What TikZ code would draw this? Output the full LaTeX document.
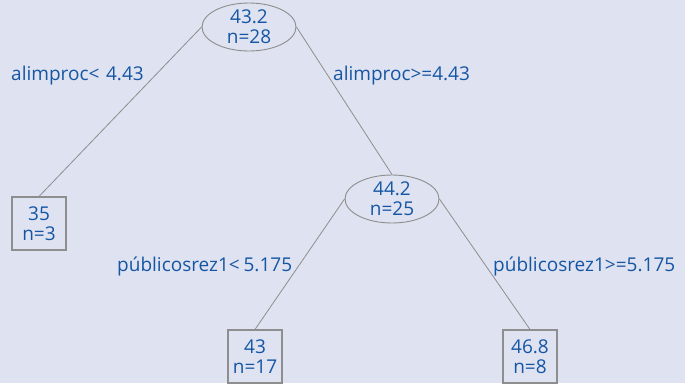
\documentclass[tikz,border=0pt]{standalone}
\usepackage{fontspec}
\setmainfont{Open Sans}
\usetikzlibrary{shapes.geometric}
\definecolor{bg}{HTML}{DFE2F0}
\definecolor{txt}{HTML}{1556A4}
\definecolor{ln}{HTML}{8E8E8E}
\tikzset{
  every node/.style={text=txt, font=\fontsize{19}{20}\selectfont, inner sep=0pt},
  split/.style={ellipse, draw=ln, line width=0.9pt, minimum width=94pt, minimum height=48pt, align=center},
  leaf/.style={rectangle, draw=ln, line width=1.1pt, minimum width=54pt, minimum height=53pt, align=center},
  edge/.style={draw=ln, line width=0.8pt},
  lbl/.style={anchor=west}
}
\begin{document}
\begin{tikzpicture}[x=1pt,y=-1pt]
\fill[bg] (0,0) rectangle (685,383);
\useasboundingbox (0,0) rectangle (685,383);
\node[split] (root) at (249,27) {43.2\\n=28};
\node[split] (n2) at (392,199) {44.2\\n=25};
\node[leaf] (l1) at (39,223.5) {35\\n=3};
\node[leaf] (l2) at (255,356.5) {43\\n=17};
\node[leaf] (l3) at (530,356.5) {46.8\\n=8};
\draw[edge] (root.west) -- (l1.north);
\draw[edge] (root.east) -- (n2.north);
\draw[edge] (n2.west) -- (l2.north);
\draw[edge] (n2.east) -- (l3.north);
\node[lbl] (a1) at (11,76) {alimproc<\hspace{0.35em}4.43};
\node[lbl] (a2) at (333,76) {alimproc>=4.43};
\node[lbl] (a3) at (117,266) {públicosrez1<\hspace{0.2em}5.175};
\node[lbl] (a4) at (493,266) {públicosrez1>=5.175};
\end{tikzpicture}
\end{document}
